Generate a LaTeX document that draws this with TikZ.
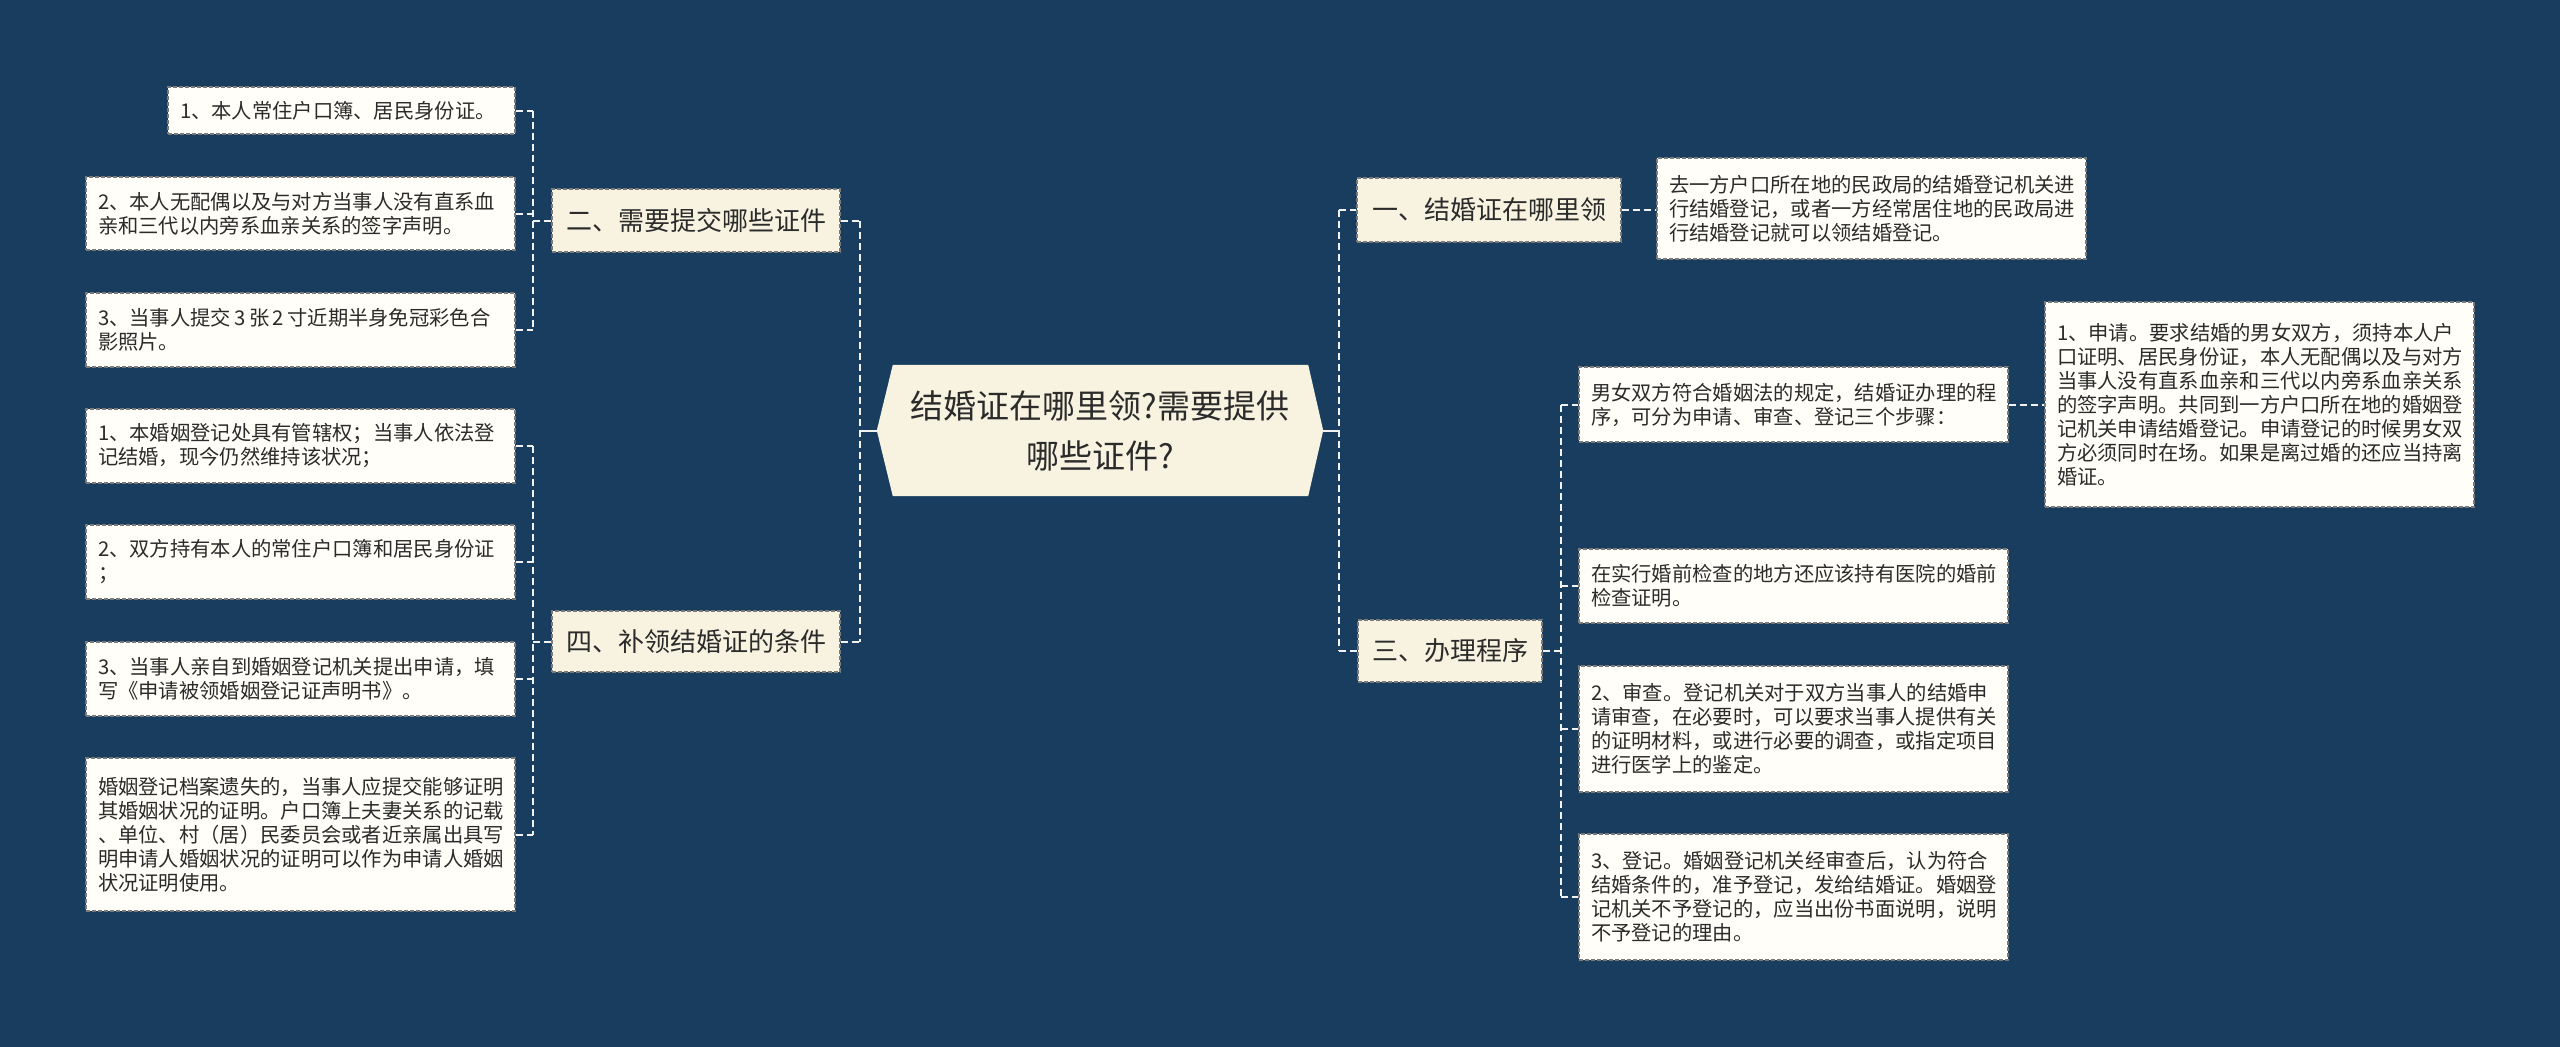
\documentclass[tikz,border=0pt]{standalone}
\usepackage{fontspec}
\setmainfont{Noto Sans CJK SC}
\newfontfamily\cjk{Noto Sans CJK SC}
\definecolor{bgc}{HTML}{183D5F}
\definecolor{creamc}{HTML}{F7F3E0}
\definecolor{leafc}{HTML}{FFFEF8}
\definecolor{txtc}{HTML}{2B2B2B}
\definecolor{brdc}{HTML}{7A7A7A}
\definecolor{linec}{HTML}{F2F2F2}
\tikzset{
  leaf/.style={draw=brdc, line width=1.1pt, dash pattern=on 4pt off 2pt, fill=leafc,
    text=txtc, font=\cjk\fontsize{20.3}{24}\selectfont, align=left,
    inner xsep=12pt, inner ysep=0pt, anchor=center},
  branch/.style={draw=brdc, line width=1.1pt, dash pattern=on 4pt off 2pt, fill=creamc,
    text=txtc, font=\cjk\fontsize{26}{30}\selectfont, align=center,
    inner xsep=0pt, inner ysep=0pt, anchor=center},
  conn/.style={draw=linec, line width=2pt, dash pattern=on 7pt off 4pt},
  sconn/.style={draw=linec, line width=2pt},
}
\begin{document}
\begin{tikzpicture}[x=1pt,y=-1pt]
\fill[bgc] (0,0) rectangle (2560,1047);

% central node
\node[inner sep=0pt, minimum width=446pt, minimum height=131pt, text=txtc,
  font=\cjk\fontsize{33}{50}\selectfont, align=center] (C) at (1100,430.5) {};
\fill[creamc] (C.west) -- ([xshift=16pt]C.north west) -- ([xshift=-15pt]C.north east)
  -- (C.east) -- ([xshift=-15pt]C.south east) -- ([xshift=16pt]C.south west) -- cycle;
\node[text=txtc, font=\cjk\fontsize{33}{50}\selectfont, align=center] (Ct) at (C.center)
  {结婚证在哪里领?需要提供\\哪些证件?};

% left branches
\node[branch, minimum width=288pt, minimum height=63pt] (B2) at (696,220.5) {二、需要提交哪些证件};
\node[branch, minimum width=288pt, minimum height=61pt] (B4) at (696,641.5) {四、补领结婚证的条件};

\node[leaf, text width=323pt, minimum height=47pt] (L1) at (341.5,110.5) {1、本人常住户口簿、居民身份证。};
\node[leaf, text width=405pt, minimum height=73pt] (L2) at (300.5,213.5) {2、本人无配偶以及与对方当事人没有直系血\\亲和三代以内旁系血亲关系的签字声明。};
\node[leaf, text width=405pt, minimum height=74pt] (L3) at (300.5,330) {\mbox{3、当事人提交\,3\,张\,2\,寸近期半身免冠彩色合}\\影照片。};

\node[leaf, text width=405pt, minimum height=74pt] (A1) at (300.5,446) {1、本婚姻登记处具有管辖权；当事人依法登\\记结婚，现今仍然维持该状况；};
\node[leaf, text width=405pt, minimum height=74pt] (A2) at (300.5,562) {2、双方持有本人的常住户口簿和居民身份证\\；};
\node[leaf, text width=405pt, minimum height=74pt] (A3) at (300.5,679) {3、当事人亲自到婚姻登记机关提出申请，填\\写《申请被领婚姻登记证声明书》。};
\node[leaf, text width=405pt, minimum height=153pt] (A4) at (300.5,834.5) {婚姻登记档案遗失的，当事人应提交能够证明\\其婚姻状况的证明。户口簿上夫妻关系的记载\\、单位、村（居）民委员会或者近亲属出具写\\明申请人婚姻状况的证明可以作为申请人婚姻\\状况证明使用。};

% right branches
\node[branch, minimum width=264pt, minimum height=64pt] (B1) at (1489,210) {一、结婚证在哪里领};
\node[branch, minimum width=184pt, minimum height=62pt] (B3) at (1450,651) {三、办理程序};

\node[leaf, text width=405pt, minimum height=101pt] (R1) at (1871.5,208.5) {去一方户口所在地的民政局的结婚登记机关进\\行结婚登记，或者一方经常居住地的民政局进\\行结婚登记就可以领结婚登记。};
\node[leaf, text width=405pt, minimum height=75pt] (R0) at (1793.5,404.5) {男女双方符合婚姻法的规定，结婚证办理的程\\序，可分为申请、审查、登记三个步骤：};
\node[leaf, text width=405pt, minimum height=205pt] (RS) at (2259.5,404.5) {1、申请。要求结婚的男女双方，须持本人户\\口证明、居民身份证，本人无配偶以及与对方\\当事人没有直系血亲和三代以内旁系血亲关系\\的签字声明。共同到一方户口所在地的婚姻登\\记机关申请结婚登记。申请登记的时候男女双\\方必须同时在场。如果是离过婚的还应当持离\\婚证。};
\node[leaf, text width=405pt, minimum height=74pt] (R2) at (1793.5,586) {在实行婚前检查的地方还应该持有医院的婚前\\检查证明。};
\node[leaf, text width=405pt, minimum height=126pt] (R3) at (1793.5,729) {2、审查。登记机关对于双方当事人的结婚申\\请审查，在必要时，可以要求当事人提供有关\\的证明材料，或进行必要的调查，或指定项目\\进行医学上的鉴定。};
\node[leaf, text width=405pt, minimum height=126pt] (R4) at (1793.5,897) {3、登记。婚姻登记机关经审查后，认为符合\\结婚条件的，准予登记，发给结婚证。婚姻登\\记机关不予登记的，应当出份书面说明，说明\\不予登记的理由。};

% bracket x positions
\coordinate (xL) at (533,0);
\coordinate (xM) at (860,0);
\coordinate (xR) at (1339,0);
\coordinate (xS) at (1561,0);

% connectors: B2 group
\draw[conn] (L1.east -| xL) -- (L3.east -| xL);
\foreach \n in {L1,L2,L3} \draw[conn] (\n.east) -- (\n.east -| xL);
\draw[conn] (B2.west -| xL) -- (B2.west);
% B4 group
\draw[conn] (A1.east -| xL) -- (A4.east -| xL);
\foreach \n in {A1,A2,A3,A4} \draw[conn] (\n.east) -- (\n.east -| xL);
\draw[conn] (B4.west -| xL) -- (B4.west);
% left main
\draw[conn] (B2.east -| xM) -- (B4.east -| xM);
\draw[conn] (B2.east) -- (B2.east -| xM);
\draw[conn] (B4.east) -- (B4.east -| xM);
\draw[sconn] (C.west) -- (C.west -| xM);
% right main
\draw[conn] (B1.west -| xR) -- (B3.west -| xR);
\draw[conn] (B1.west -| xR) -- (B1.west);
\draw[conn] (B3.west -| xR) -- (B3.west);
\draw[sconn] (C.east) -- (C.east -| xR);
% B1 -> R1
\draw[conn] (B1.east) -- (B1.east -| R1.west);
% B3 group
\draw[conn] (B3.east) -- (B3.east -| xS);
\draw[conn] (R0.west -| xS) -- (R4.west -| xS);
\foreach \n in {R0,R2,R3,R4} \draw[conn] (\n.west -| xS) -- (\n.west);
% R0 -> RS
\draw[conn] (R0.east) -- (RS.west);
\end{tikzpicture}
\end{document}
